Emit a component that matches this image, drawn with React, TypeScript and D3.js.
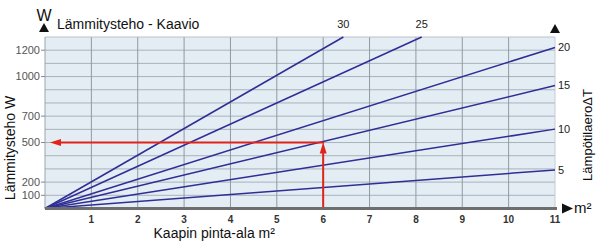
import React from "react";
import * as d3 from "d3";

const deltaT = [5, 10, 15, 20, 25, 30];
const wattsPerM2 = [26.6, 54.7, 84.7, 111, 160, 202];
const xTicks = [1, 2, 3, 4, 5, 6, 7, 8, 9, 10, 11];
const yTickLabels = [100, 200, 500, 700, 1000, 1200];
const yGrid = [100, 200, 300, 400, 500, 600, 700, 800, 900, 1000, 1100, 1200];
const exampleArea = [6];
const examplePower = [500];

const W = 600;
const H = 244;
const FONT = "'Liberation Sans', Arial, Helvetica, sans-serif";

export default function App() {
  const x = d3.scaleLinear().domain([0, 11]).range([45, 555]);
  const y = d3.scaleLinear().domain([0, 1300]).range([208.5, 37]);
  const xMax = 11;
  const yMax = 1300;
  const blue = "#2e2e96";
  const red = "#e2231a";

  const lines = deltaT.map((t, i) => {
    const k = wattsPerM2[i];
    const xEnd = Math.min(xMax, yMax / k);
    const yEnd = k * xEnd;
    return { t, x0: 0, y0: 0, x1: xEnd, y1: yEnd, top: xEnd < xMax };
  });

  const lineGen = d3.line<[number, number]>().x((d) => x(d[0])).y((d) => y(d[1]));

  const ex = exampleArea[0];
  const ey = examplePower[0];

  return (
    <svg width={W} height={H} style={{ position: "absolute", left: 0, top: 0 }} fontFamily={FONT}>
      <rect x={0} y={0} width={W} height={H} fill="#fff" />
      <rect x={x(0)} y={y(yMax)} width={x(xMax) - x(0)} height={y(0) - y(yMax)} fill="#e5edf4" />
      {yGrid.map((v) => (
        <line key={"h" + v} x1={x(0)} x2={x(xMax)} y1={y(v)} y2={y(v)} stroke="#a7b2bb" strokeWidth={1} />
      ))}
      {xTicks.slice(0, -1).map((v) => (
        <line key={"v" + v} x1={x(v)} x2={x(v)} y1={y(0)} y2={y(yMax)} stroke="#8f9aa3" strokeWidth={1} />
      ))}
      <line x1={x(0)} x2={x(xMax)} y1={y(yMax)} y2={y(yMax)} stroke="#b8c2ca" strokeWidth={1} />
      <line x1={x(xMax)} x2={x(xMax)} y1={y(0)} y2={y(yMax)} stroke="#c3ccd3" strokeWidth={1} />
      <line x1={x(0)} x2={x(0)} y1={y(0)} y2={y(yMax)} stroke="#9aa5ae" strokeWidth={1} />

      {yTickLabels.map((v) => (
        <g key={"yt" + v}>
          <line x1={x(0) - 4} x2={x(0)} y1={y(v)} y2={y(v)} stroke="#888" strokeWidth={1} />
          <text x={x(0) - 5} y={y(v)} dy="0.35em" textAnchor="end" fontSize={11} fill="#555">
            {v}
          </text>
        </g>
      ))}

      {lines.map((l) => (
        <path
          key={"l" + l.t}
          d={lineGen([[l.x0, l.y0], [l.x1, l.y1]]) || ""}
          stroke={blue}
          strokeWidth={1.5}
          fill="none"
        />
      ))}
      {lines.map((l) =>
        l.top ? (
          <text key={"lt" + l.t} x={x(l.x1)} y={y(l.y1) - 9} textAnchor="middle" fontSize={11} fill="#222">
            {l.t}
          </text>
        ) : (
          <text key={"lt" + l.t} x={x(l.x1) + 3} y={y(l.y1)} dy="0.35em" textAnchor="start" fontSize={11} fill="#222">
            {l.t}
          </text>
        )
      )}

      <line x1={x(ex)} x2={x(ex)} y1={y(0)} y2={y(ey) + 8} stroke={red} strokeWidth={2} />
      <path
        d={`M${x(ex)},${y(ey)} L${x(ex) - 3.5},${y(ey) + 11} L${x(ex) + 3.5},${y(ey) + 11} Z`}
        fill={red}
      />
      <line x1={x(ex) + 1} x2={x(0) + 14} y1={y(ey)} y2={y(ey)} stroke={red} strokeWidth={2} />
      <path
        d={`M${x(0) + 5},${y(ey)} L${x(0) + 16},${y(ey) - 3.5} L${x(0) + 16},${y(ey) + 3.5} Z`}
        fill={red}
      />

      <line x1={x(0)} x2={x(xMax) + 2} y1={y(0)} y2={y(0)} stroke="#6e6e6e" strokeWidth={3} />
      <path d={`M${x(xMax) + 7},${y(0) - 5} L${x(xMax) + 18},${y(0)} L${x(xMax) + 7},${y(0) + 5} Z`} fill="#111" />
      <text x={x(xMax) + 19} y={y(0) + 4} fontSize={15} fill="#111">
        m²
      </text>
      {xTicks.map((v) => (
        <text key={"xt" + v} x={x(v)} y={222.5} textAnchor="middle" fontSize={10} fontWeight="bold" fill="#333">
          {v}
        </text>
      ))}
      <text x={(x(2.3) + x(5)) / 2} y={237.5} textAnchor="middle" fontSize={14} fill="#111">
        Kaapin pinta-ala m²
      </text>

      <text transform="translate(15,148) rotate(-90)" textAnchor="middle" fontSize={14} fill="#111">
        Lämmitysteho W
      </text>
      <text transform="translate(592,135) rotate(-90)" textAnchor="middle" fontSize={13} fill="#111">
        LämpötilaeroΔT
      </text>
      <path d={`M${x(xMax) - 5},33 L${x(xMax) + 5},33 L${x(xMax)},24 Z`} fill="#111" />

      <text x={44} y={21} textAnchor="middle" fontSize={16} fill="#111">
        W
      </text>
      <path d="M39,32 L49,32 L44,23 Z" fill="#111" />
      <text x={57} y={29} fontSize={14} fill="#111">
        Lämmitysteho - Kaavio
      </text>
    </svg>
  );
}
